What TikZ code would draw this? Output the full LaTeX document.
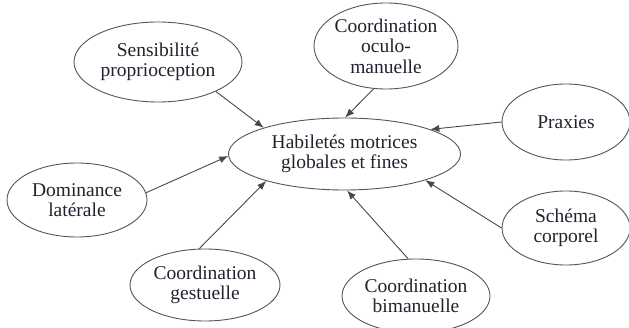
\documentclass[tikz,border=0pt]{standalone}
\usepackage{fontspec}
\setmainfont{Liberation Serif}
\usetikzlibrary{shapes.geometric,arrows.meta}
\definecolor{txt}{HTML}{222230}
\definecolor{edge}{HTML}{555555}
\begin{document}
\begin{tikzpicture}[x=1pt,y=-1pt,
  bubble/.style={ellipse,draw=edge,line width=0.9pt,inner sep=-12pt,align=center,
    text=txt,font=\fontsize{19.5}{20.5}\selectfont},
  link/.style={draw=edge!85!black,line width=0.9pt,-{Latex[length=9pt,width=7pt]}}]
\useasboundingbox (0,0) rectangle (629,328);
\node[bubble,minimum width=232pt,minimum height=72pt] (C) at (344.5,154) {Habiletés motrices\\globales et fines};
\node[bubble,minimum width=168pt,minimum height=80pt] (S) at (158,62) {Sensibilité\\proprioception};
\node[bubble,minimum width=144pt,minimum height=86pt] (O) at (386,46) {Coordination\\oculo-\\manuelle};
\node[bubble,minimum width=128pt,minimum height=76pt] (P) at (566,122) {Praxies};
\node[bubble,minimum width=140pt,minimum height=74pt] (D) at (77,200) {Dominance\\latérale};
\node[bubble,minimum width=128pt,minimum height=74pt] (SC) at (566,228) {Schéma\\corporel};
\node[bubble,minimum width=150pt,minimum height=72pt] (G) at (205,285) {Coordination\\gestuelle};
\node[bubble,minimum width=148pt,minimum height=74pt] (B) at (416,296) {Coordination\\bimanuelle};
\draw[link] (S.-27) -- (C.162.5);
\draw[link] (O.-106) -- (C.89);
\draw[link] (P.180) -- (C.16);
\draw[link] (D.6.6) -- (C.181);
\draw[link] (G.99.5) -- (C.199);
\draw[link] (B.102) -- (C.-86);
\draw[link] (SC.180) -- (C.-18.5);
\end{tikzpicture}
\end{document}
